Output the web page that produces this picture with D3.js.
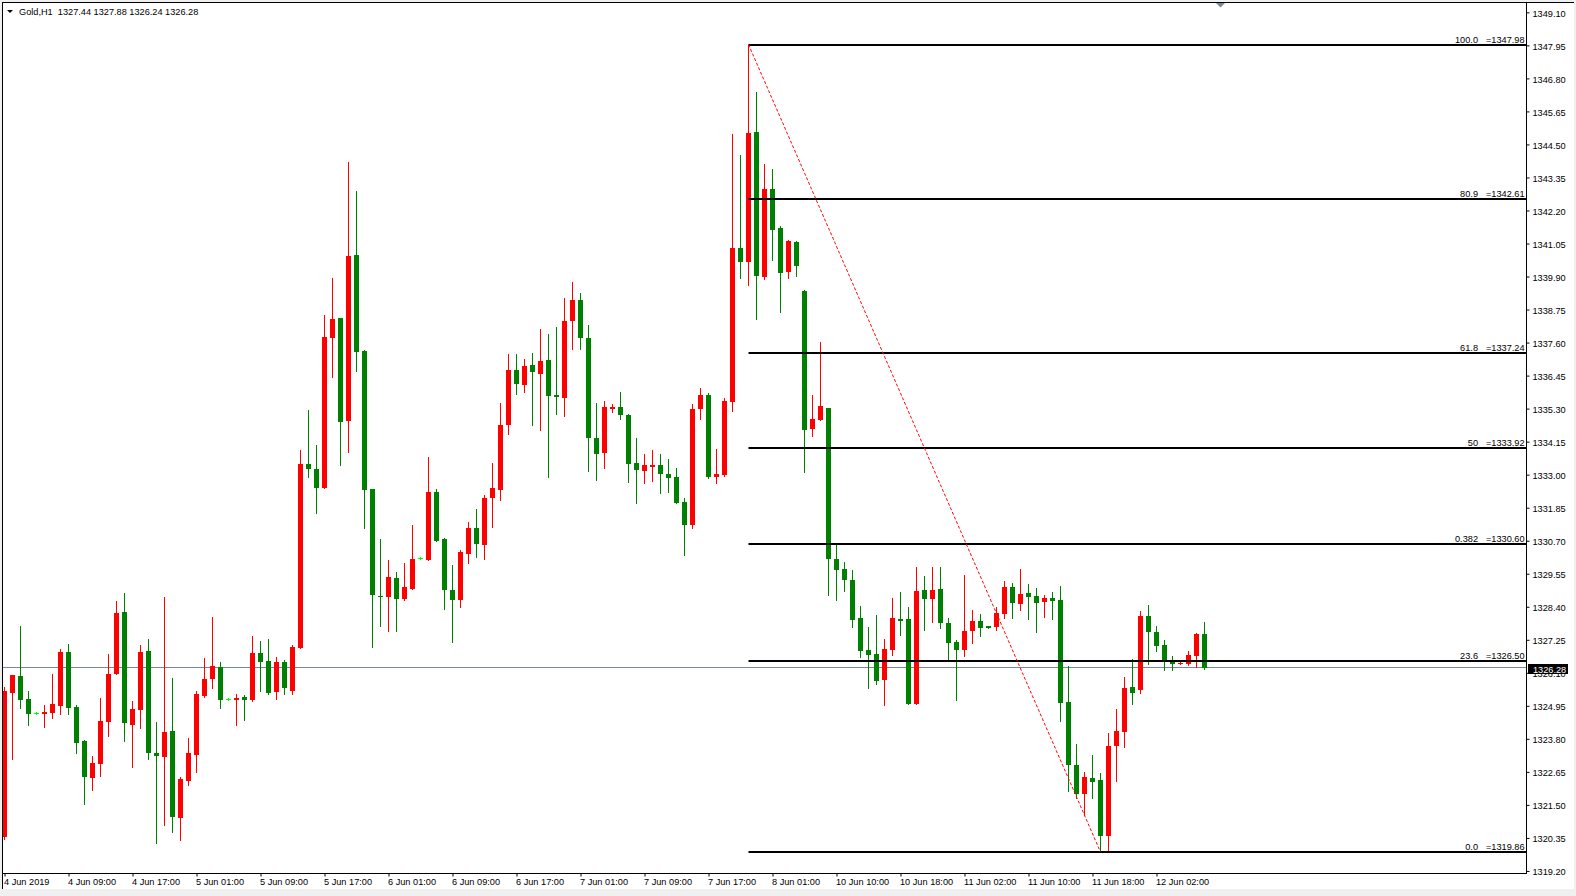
<!DOCTYPE html>
<html><head><meta charset="utf-8">
<script src="https://cdn.jsdelivr.net/npm/d3@7"></script>
<style>
html,body{margin:0;padding:0;background:#f0f0f0;}
svg{display:block;font-family:"Liberation Sans",Arial,sans-serif;}
</style></head><body>
<svg id="c" width="1576" height="896"></svg>
<script>
// ---- DATA ----
const symbolTitle = "Gold,H1";
const lastQuote = [1327.44, 1327.88, 1326.24, 1326.28];

const opens = [
1320.39,1325.41,1325.99,1325.19,1324.70,1324.68,1324.71,1324.95,1326.83,1324.91,
1323.73,1322.45,1322.94,1324.40,1326.07,1328.22,1324.29,1324.82,1326.86,1323.32,
1323.18,1324.07,1321.05,1322.34,1323.25,1325.30,1325.89,1326.30,1325.19,1325.16,
1325.26,1325.16,1326.79,1326.51,1325.44,1326.48,1325.48,1326.97,1333.37,1333.19,
1332.55,1337.77,1338.46,1334.88,1340.65,1337.31,1332.50,1328.79,1328.75,1329.40,
1328.68,1329.03,1330.10,1330.04,1332.40,1330.77,1328.98,1328.65,1330.25,1331.16,
1330.56,1332.20,1332.48,1334.74,1336.66,1336.13,1336.83,1336.52,1337.00,1335.79,
1335.68,1338.36,1339.09,1337.77,1334.26,1333.77,1335.30,1335.36,1335.09,1333.41,
1333.14,1333.27,1333.34,1333.02,1332.92,1332.06,1331.26,1335.30,1335.79,1332.93,
1333.00,1335.54,1340.90,1340.42,1344.93,1339.89,1342.96,1341.60,1340.07,1341.11,
1339.41,1334.60,1334.91,1335.32,1330.07,1329.72,1329.34,1328.02,1326.90,1326.77,
1325.86,1326.90,1327.98,1327.98,1325.00,1328.99,1328.68,1329.03,1327.85,1327.18,
1326.90,1327.57,1327.91,1327.73,1327.71,1328.16,1329.10,1328.51,1328.89,1328.79,
1328.58,1328.72,1328.64,1325.08,1322.90,1321.89,1322.44,1322.37,1320.43,1323.56,
1324.05,1325.61,1325.51,1328.09,1327.53,1327.08,1326.51,1326.41,1326.41,1326.70,
1327.44];
const highs = [
1325.60,1326.02,1327.73,1325.47,1324.74,1324.98,1326.06,1326.93,1327.10,1324.98,
1323.76,1323.20,1325.22,1326.76,1328.60,1328.88,1325.13,1327.07,1327.28,1324.39,
1328.74,1325.92,1322.47,1323.84,1325.47,1326.62,1328.04,1326.47,1325.22,1325.36,
1325.33,1327.38,1327.21,1327.28,1326.65,1326.54,1327.07,1333.86,1335.25,1334.04,
1338.56,1339.86,1338.46,1343.89,1342.88,1337.34,1332.50,1330.76,1330.03,1329.61,
1329.92,1331.25,1330.15,1333.62,1332.50,1330.81,1329.86,1330.39,1331.36,1331.81,
1332.29,1333.40,1335.51,1337.21,1337.21,1337.04,1337.25,1338.08,1337.91,1338.15,
1339.16,1339.72,1339.34,1338.22,1335.51,1335.58,1335.46,1335.89,1335.12,1334.26,
1333.72,1333.86,1333.72,1333.55,1333.23,1332.20,1335.47,1336.03,1335.85,1333.90,
1335.68,1344.87,1344.14,1347.98,1346.34,1343.83,1343.65,1341.67,1341.18,1341.15,
1339.44,1335.79,1337.63,1335.32,1330.56,1329.97,1329.69,1328.44,1327.71,1328.12,
1327.29,1328.72,1328.92,1328.40,1329.80,1329.48,1329.80,1329.80,1328.02,1327.25,
1329.52,1328.30,1328.16,1327.73,1328.40,1329.31,1329.24,1329.72,1329.20,1329.06,
1328.82,1328.92,1329.12,1326.34,1323.63,1322.66,1323.24,1322.61,1324.01,1324.85,
1325.96,1326.58,1328.26,1328.47,1327.74,1327.25,1326.69,1326.50,1326.87,1327.50,
1327.88];
const lows = [
1320.30,1323.10,1324.89,1324.29,1324.68,1324.22,1324.54,1324.68,1324.68,1323.32,
1321.54,1322.03,1322.52,1323.91,1326.07,1323.74,1322.83,1324.19,1323.11,1320.17,
1320.81,1320.57,1320.29,1322.20,1322.66,1325.26,1325.58,1324.89,1325.15,1324.29,
1324.47,1325.13,1325.47,1325.37,1325.20,1325.37,1325.37,1326.97,1332.93,1331.68,
1332.55,1336.41,1333.33,1333.80,1336.62,1331.15,1327.01,1327.74,1327.57,1327.57,
1328.65,1329.03,1330.05,1330.04,1330.70,1328.33,1327.18,1328.40,1329.94,1330.15,
1330.08,1331.19,1332.13,1334.43,1335.82,1335.89,1334.74,1334.57,1332.93,1335.12,
1335.05,1337.39,1337.39,1333.14,1332.82,1333.24,1335.18,1334.95,1332.75,1332.02,
1332.72,1332.79,1332.37,1332.41,1332.02,1330.19,1331.15,1334.95,1332.89,1332.72,
1332.96,1335.23,1339.86,1339.62,1338.43,1339.82,1340.49,1338.68,1339.86,1339.93,
1333.10,1334.36,1334.91,1328.82,1328.65,1328.96,1327.70,1326.66,1325.58,1325.72,
1324.99,1326.73,1327.43,1325.00,1325.00,1327.60,1327.88,1327.67,1326.56,1325.16,
1326.70,1327.15,1327.39,1327.67,1327.60,1328.02,1328.02,1328.30,1327.98,1327.53,
1328.05,1327.98,1324.43,1321.99,1321.75,1321.16,1321.75,1319.86,1319.87,1322.34,
1323.53,1325.02,1325.41,1326.42,1326.87,1326.21,1326.21,1326.41,1326.38,1326.31,
1326.24];
const closes = [
1325.48,1326.02,1325.16,1324.68,1324.70,1324.74,1325.01,1326.83,1324.89,1323.67,
1322.48,1322.96,1324.42,1326.06,1328.18,1324.36,1324.84,1326.83,1323.32,1323.21,
1324.04,1321.09,1322.40,1323.31,1325.36,1325.88,1326.33,1325.16,1325.19,1325.23,
1325.16,1326.79,1326.49,1325.40,1326.48,1325.58,1327.00,1333.37,1333.21,1332.55,
1337.79,1338.42,1334.84,1340.62,1337.28,1332.48,1328.82,1328.75,1329.44,1328.68,
1329.09,1330.06,1330.10,1332.40,1330.70,1328.99,1328.65,1330.32,1331.16,1330.60,
1332.19,1332.54,1334.74,1336.66,1336.17,1336.80,1336.56,1336.97,1335.75,1335.72,
1338.36,1339.09,1337.77,1334.26,1333.73,1335.37,1335.36,1335.09,1333.38,1333.17,
1333.34,1333.34,1333.03,1332.89,1332.02,1331.26,1335.30,1335.79,1332.93,1333.03,
1335.56,1340.90,1340.42,1344.90,1339.93,1342.96,1341.53,1340.03,1341.15,1340.28,
1334.57,1334.95,1335.40,1330.07,1329.69,1329.34,1327.95,1326.87,1326.73,1325.82,
1326.94,1328.02,1327.91,1325.00,1328.96,1328.68,1328.99,1327.85,1327.15,1326.90,
1327.57,1327.91,1327.67,1327.67,1328.19,1329.10,1328.54,1328.86,1328.75,1328.54,
1328.72,1328.61,1325.06,1322.90,1321.89,1322.47,1322.31,1320.43,1323.56,1324.08,
1325.58,1325.41,1328.09,1327.53,1327.04,1326.56,1326.41,1326.45,1326.73,1327.46,
1326.28];

const xTickIndex = [0,8,16,24,32,40,48,56,64,72,80,88,96,104,112,120,128,136,144];
const xTickLabels = ["4 Jun 2019","4 Jun 09:00","4 Jun 17:00","5 Jun 01:00","5 Jun 09:00","5 Jun 17:00",
  "6 Jun 01:00","6 Jun 09:00","6 Jun 17:00","7 Jun 01:00","7 Jun 09:00","7 Jun 17:00","8 Jun 01:00",
  "10 Jun 10:00","10 Jun 18:00","11 Jun 02:00","11 Jun 10:00","11 Jun 18:00","12 Jun 02:00"];
const yTicks = [1349.10,1347.95,1346.80,1345.65,1344.50,1343.35,1342.20,1341.05,1339.90,1338.75,
  1337.60,1336.45,1335.30,1334.15,1333.00,1331.85,1330.70,1329.55,1328.40,1327.25,1326.10,
  1324.95,1323.80,1322.65,1321.50,1320.35,1319.20];

const fibLabels = ["0.0","23.6","0.382","50","61.8","80.9","100.0"];
const fibPrices = [1319.86,1326.50,1330.60,1333.92,1337.24,1342.61,1347.98];
const fibFromBar = 93, fibFromPrice = 1347.98;
const fibToBar = 137, fibToPrice = 1319.86;
const currentPrice = 1326.28;

// ---- DRAW ----
const W = 1576, H = 896;
const plot = {left:3, top:3, right:1527, bottom:874};
const svg = d3.select("#c");
svg.append("rect").attr("width",W).attr("height",H).attr("fill","#f0f0f0");
svg.append("rect").attr("x",2).attr("y",2).attr("width",1572).attr("height",887).attr("fill","#ffffff");

const x = d3.scaleLinear().domain([0,150]).range([4.5,1204.5]);
const y = d3.scaleLinear().domain([1319.86,1347.98]).range([852,44.5]);

svg.append("clipPath").attr("id","pc").append("rect")
  .attr("x",plot.left).attr("y",plot.top)
  .attr("width",plot.right-plot.left).attr("height",plot.bottom-plot.top);

const g = svg.append("g").attr("clip-path","url(#pc)");

// current price line
const yc = Math.floor(y(currentPrice))+0.5;
g.append("line").attr("x1",plot.left).attr("x2",plot.right).attr("y1",yc).attr("y2",yc)
  .attr("stroke","#778899").attr("stroke-width",1);

// candles
const bars = d3.range(opens.length).map(i=>({i,o:opens[i],h:highs[i],l:lows[i],c:closes[i]}));
const col = d => d.c>d.o ? "#ff0000" : (d.c<d.o ? "#008000" : "#00ff00");
const cg = g.append("g");
cg.selectAll("line.w").data(bars).join("line").attr("class","w")
  .attr("x1",d=>x(d.i)).attr("x2",d=>x(d.i))
  .attr("y1",d=>Math.round(y(d.h))).attr("y2",d=>Math.round(y(d.l))+1)
  .attr("stroke",col).attr("stroke-width",1);
cg.selectAll("rect.b").data(bars).join("rect").attr("class","b")
  .attr("x",d=>x(d.i)-2.5).attr("width",5)
  .attr("y",d=>Math.round(y(Math.max(d.o,d.c))))
  .attr("height",d=>Math.max(1,Math.round(y(Math.min(d.o,d.c)))-Math.round(y(Math.max(d.o,d.c)))))
  .attr("fill",col);

// fibo levels
const fg = g.append("g");
fg.selectAll("rect").data(fibPrices).join("rect")
  .attr("x",x(fibFromBar)).attr("width",plot.right-x(fibFromBar))
  .attr("y",d=>Math.round(y(d))-1).attr("height",2).attr("fill","#000");
fg.append("line")
  .attr("x1",x(fibFromBar)).attr("y1",y(fibFromPrice))
  .attr("x2",x(fibToBar)).attr("y2",y(fibToPrice))
  .attr("stroke","#ff0000").attr("stroke-width",1).attr("stroke-dasharray","3,2");
fg.selectAll("text.lv").data(fibLabels).join("text").attr("class","lv")
  .attr("x",1478).attr("y",(d,i)=>Math.round(y(fibPrices[i]))-2.5)
  .attr("text-anchor","end").attr("font-size",9.2).attr("fill","#000").text(d=>d);
fg.selectAll("text.pv").data(fibPrices).join("text").attr("class","pv")
  .attr("x",1486).attr("y",d=>Math.round(y(d))-2.5)
  .attr("font-size",9.2).attr("fill","#000").text(d=>"="+d.toFixed(2));

// borders
svg.append("line").attr("x1",2.5).attr("x2",2.5).attr("y1",2).attr("y2",889).attr("stroke","#000");
svg.append("line").attr("x1",2).attr("x2",1574).attr("y1",2.5).attr("y2",2.5).attr("stroke","#000");
svg.append("line").attr("x1",plot.right-0.5).attr("x2",plot.right-0.5).attr("y1",3).attr("y2",plot.bottom).attr("stroke","#000");
svg.append("line").attr("x1",3).attr("x2",plot.right).attr("y1",plot.bottom-0.5).attr("y2",plot.bottom-0.5).attr("stroke","#000");

// y axis
const gy = svg.append("g").attr("transform",`translate(${plot.right-0.5},0)`)
  .call(d3.axisRight(y).tickValues(yTicks).tickSize(3).tickPadding(3).tickFormat(d3.format(".2f")));
gy.select(".domain").remove();
gy.attr("font-family",null).attr("font-size",9.2);
gy.selectAll("line").attr("stroke","#000");
gy.selectAll("text").attr("fill","#000").attr("dy","0.4em");

// x axis
const gx = svg.append("g").attr("transform",`translate(0,${plot.bottom-0.5})`)
  .call(d3.axisBottom(x).tickValues(xTickIndex).tickSize(3).tickFormat((d,i)=>xTickLabels[i]));
gx.select(".domain").remove();
gx.attr("font-family",null).attr("font-size",9.2);
gx.selectAll("line").attr("stroke","#000");
gx.selectAll("text").attr("fill","#000").attr("text-anchor","start").attr("x",-1).attr("y",5);

// current price label
svg.append("rect").attr("x",1528).attr("y",yc-3.5).attr("width",40).attr("height",10).attr("fill","#000");
svg.append("text").attr("x",1533).attr("y",yc+5).attr("font-size",9.2).attr("fill","#fff")
  .text(currentPrice.toFixed(2));

// header
svg.append("path").attr("d","M7,10 L13,10 L10,13 Z").attr("fill","#000");
svg.append("text").attr("x",19).attr("y",15).attr("font-size",9.2).attr("fill","#000")
  .style("white-space","pre")
  .text(symbolTitle+"  "+lastQuote.map(v=>v.toFixed(2)).join(" "));

// chart shift marker
svg.append("path").attr("d","M1216,3 L1225,3 L1220.5,7.5 Z").attr("fill","#778899");
</script>
</body></html>
